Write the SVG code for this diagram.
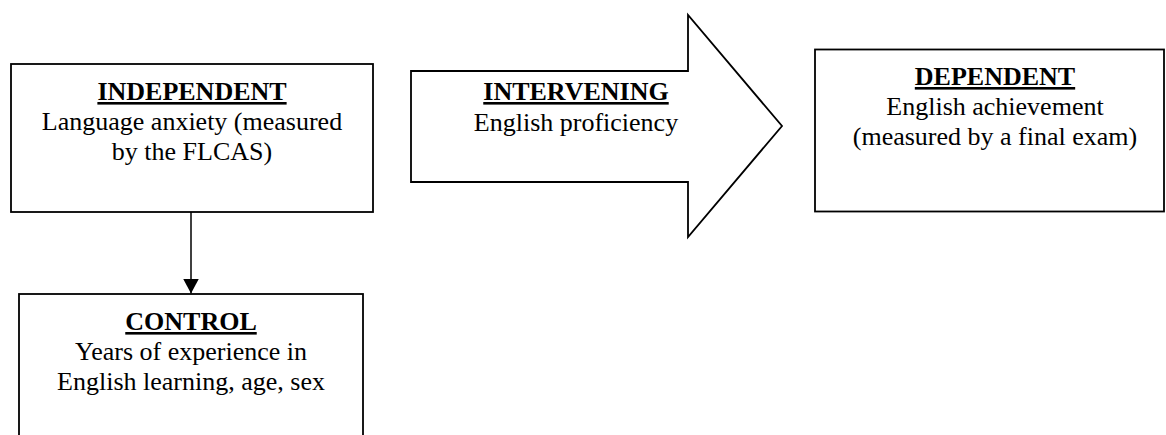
<svg xmlns="http://www.w3.org/2000/svg" width="1166" height="435" viewBox="0 0 1166 435">
<style>
.box{fill:#fff;stroke:#000;stroke-width:1.8}
.t{font-family:"Liberation Serif","Times New Roman",serif;font-size:26px;fill:#000;text-anchor:middle}
.h{font-weight:bold;text-decoration:underline}
</style>
<defs>
<marker id="ah" markerWidth="15" markerHeight="16" refX="15" refY="8" orient="auto" markerUnits="userSpaceOnUse">
<path d="M0,0 L15,8 L0,16 Z" fill="#000"/>
</marker>
</defs>
<rect width="1166" height="435" fill="#fff"/>
<g id="connectors">
<line x1="191" y1="212" x2="191" y2="293.5" stroke="#000" stroke-width="1.5" marker-end="url(#ah)"/>
</g>
<g id="independent">
<rect class="box" x="11" y="64" width="362" height="148"/>
<text class="t h" x="192" y="100">INDEPENDENT</text>
<text class="t" x="192" y="130">Language anxiety (measured</text>
<text class="t" x="192" y="160">by the FLCAS)</text>
</g>
<g id="intervening">
<polygon class="box" stroke-width="1.3" points="411,71 688,71 688,15 782,126 688,237 688,182 411,182"/>
<text class="t h" x="576" y="100">INTERVENING</text>
<text class="t" x="576" y="131">English proficiency</text>
</g>
<g id="dependent">
<rect class="box" x="815" y="49.5" width="349" height="162" stroke-width="2.2"/>
<text class="t h" x="995" y="85">DEPENDENT</text>
<text class="t" x="995" y="115">English achievement</text>
<text class="t" x="995" y="145">(measured by a final exam)</text>
</g>
<g id="control">
<rect class="box" x="19" y="294" width="344" height="160"/>
<text class="t h" x="191" y="330">CONTROL</text>
<text class="t" x="191" y="360">Years of experience in</text>
<text class="t" x="191" y="390">English learning, age, sex</text>
</g>
</svg>
